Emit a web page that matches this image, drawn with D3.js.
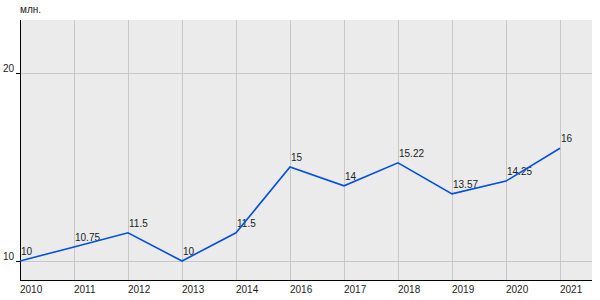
<!DOCTYPE html>
<html>
<head>
<meta charset="utf-8">
<script src="https://d3js.org/d3.v7.min.js"></script>
<style>
  body { margin: 0; background: #fff; }
  text { font-family: Arial, "Liberation Sans", sans-serif; font-size: 10px; fill: #222; }
  .grid line { stroke: #c8c8c8; stroke-width: 1; }
</style>
</head>
<body>
<svg id="chart" width="600" height="300"></svg>
<script>
// chart data
const years = ["2010", "2011", "2012", "2013", "2014", "2016", "2017", "2018", "2019", "2020", "2021"];
const values = [10, 10.75, 11.5, 10, 11.5, 15, 14, 15.22, 13.57, 14.25, 16];
const yTicks = [10, 20];

const svg = d3.select("svg#chart");
const margin = { top: 20, right: 8, bottom: 20, left: 20 };
const width = 600, height = 300;
const chartWidth = width - margin.left - margin.right;
const chartHeight = height - margin.top - margin.bottom;

const x = d3.scalePoint().domain(years).range([0, 540]);
const y = d3.scaleLinear().domain([8.99, 22.82]).range([chartHeight, 0]);

const g = svg.append("g").attr("transform", `translate(${margin.left},${margin.top})`);

g.append("rect")
  .attr("width", chartWidth).attr("height", chartHeight)
  .attr("fill", "#ebebeb");

// gridlines
const grid = g.append("g").attr("class", "grid");
grid.selectAll("line.v").data(years).join("line")
  .attr("class", "v")
  .attr("x1", d => x(d) + 0.5).attr("x2", d => x(d) + 0.5)
  .attr("y1", 0).attr("y2", chartHeight);
grid.selectAll("line.h").data(yTicks).join("line")
  .attr("class", "h")
  .attr("x1", 0).attr("x2", chartWidth)
  .attr("y1", d => Math.round(y(d)) + 0.5).attr("y2", d => Math.round(y(d)) + 0.5);

// axes
g.append("line")
  .attr("x1", 0.5).attr("x2", 0.5).attr("y1", 0).attr("y2", chartHeight)
  .attr("stroke", "#000");
g.append("line")
  .attr("x1", 0).attr("x2", chartWidth).attr("y1", chartHeight + 0.5).attr("y2", chartHeight + 0.5)
  .attr("stroke", "#000");

g.selectAll("line.ytick").data(yTicks).join("line")
  .attr("class", "ytick")
  .attr("x1", -4).attr("x2", 0)
  .attr("y1", d => Math.round(y(d)) + 0.5).attr("y2", d => Math.round(y(d)) + 0.5)
  .attr("stroke", "#000");
g.selectAll("text.ylab").data(yTicks).join("text")
  .attr("class", "ylab")
  .attr("x", -6).attr("y", d => y(d) - 1)
  .attr("text-anchor", "end")
  .text(d => d);

g.selectAll("text.xlab").data(years).join("text")
  .attr("class", "xlab")
  .attr("x", d => x(d)).attr("y", chartHeight + 13)
  .text(d => d);

svg.append("text").attr("x", 20).attr("y", 13).text("млн.");

// value labels
const pts = years.map((yr, i) => ({ yr, v: values[i] }));
g.selectAll("text.val").data(pts).join("text")
  .attr("class", "val")
  .attr("x", d => x(d.yr) + 1).attr("y", d => y(d.v) - 6)
  .text(d => d.v);

// line
g.append("path")
  .datum(pts)
  .attr("fill", "none")
  .attr("stroke", "#0050e6")
  .attr("stroke-width", 1.6)
  .attr("d", d3.line().x(d => x(d.yr)).y(d => y(d.v)));
</script>
</body>
</html>
